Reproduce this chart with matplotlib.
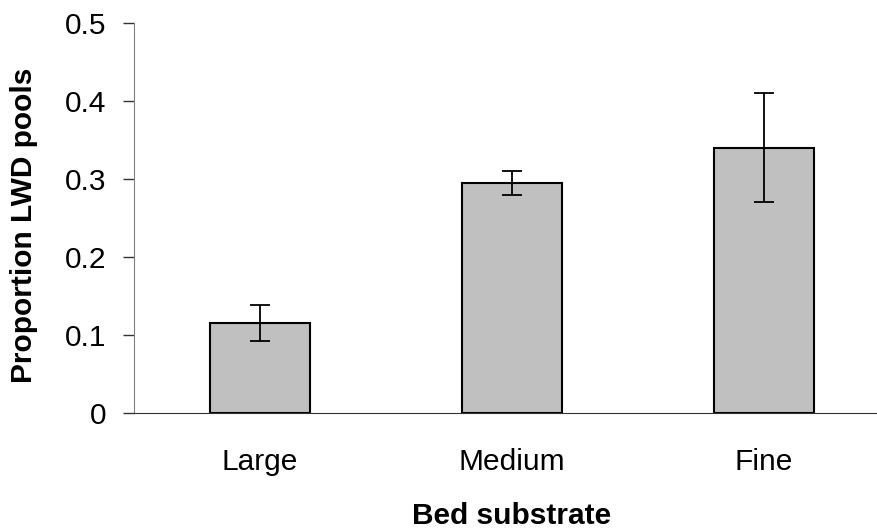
import matplotlib
matplotlib.use('Agg')
from matplotlib import pyplot as plt

# data
categories = ['Large', 'Medium', 'Fine']
proportion = [0.115, 0.295, 0.340]
errors = [0.023, 0.015, 0.070]
yticks = [0, 0.1, 0.2, 0.3, 0.4, 0.5]
ytick_labels = ['0', '0.1', '0.2', '0.3', '0.4', '0.5']

plt.rcParams['font.family'] = ['Liberation Sans', 'DejaVu Sans']

fig = plt.figure(figsize=(8.78, 5.31), dpi=100)
ax = fig.add_axes([134 / 878, 118 / 531, 744 / 878, 390 / 531])

x = range(len(categories))
ax.bar(x, proportion, width=100 / 252, color='#C0C0C0', edgecolor='black', linewidth=1.5,
       yerr=errors, error_kw=dict(ecolor='black', elinewidth=1.3, capsize=7, capthick=1.3))

ax.set_xlim(-0.5, -0.5 + 744 / 252)
ax.set_ylim(0, 0.5)
ax.set_yticks(yticks)
ax.set_yticklabels(ytick_labels)
ax.set_xticks(list(x))
ax.set_xticklabels(categories)

ax.spines['top'].set_visible(False)
ax.spines['right'].set_visible(False)
ax.spines['left'].set_color('#808080')
ax.spines['bottom'].set_color('#333333')
ax.tick_params(axis='y', length=8, width=1, color='#333333', labelsize=21.5, pad=12)
ax.tick_params(axis='x', length=0, labelsize=21.5, pad=25)

ax.set_xlabel('Bed substrate', fontsize=21.5, fontweight='bold')
ax.set_ylabel('Proportion LWD pools', fontsize=21.5, fontweight='bold')
ax.xaxis.set_label_coords((512 - 134) / 744, -(502 - 413) / 390)
ax.yaxis.set_label_coords(-(134 - 38) / 744, (413 - 225) / 390)

fig.savefig('out.png', dpi=100)
